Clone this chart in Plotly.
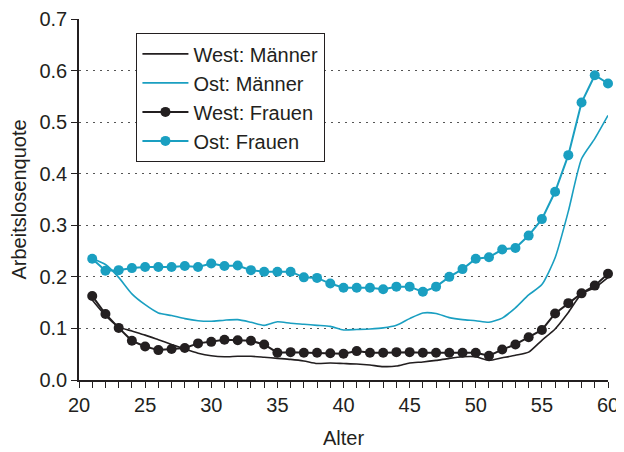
import plotly.graph_objects as go

alter = list(range(21, 61))

west_maenner = [0.155, 0.125, 0.103, 0.095, 0.087, 0.078, 0.069, 0.060, 0.052, 0.047,
                0.045, 0.046, 0.046, 0.044, 0.042, 0.040, 0.037, 0.032, 0.033, 0.032,
                0.031, 0.029, 0.026, 0.027, 0.033, 0.035, 0.038, 0.042, 0.045, 0.045,
                0.038, 0.043, 0.048, 0.054, 0.077, 0.099, 0.131, 0.167, 0.179, 0.199]

ost_maenner = [0.235, 0.224, 0.199, 0.167, 0.146, 0.130, 0.125, 0.119, 0.115, 0.114,
               0.116, 0.117, 0.112, 0.106, 0.113, 0.110, 0.108, 0.106, 0.104, 0.097,
               0.098, 0.099, 0.101, 0.106, 0.119, 0.130, 0.129, 0.121, 0.117, 0.115,
               0.112, 0.120, 0.140, 0.165, 0.185, 0.237, 0.327, 0.429, 0.468, 0.513]

west_frauen = [0.163, 0.128, 0.101, 0.076, 0.065, 0.058, 0.060, 0.062, 0.071, 0.074,
               0.078, 0.077, 0.076, 0.069, 0.053, 0.054, 0.053, 0.053, 0.052, 0.051,
               0.056, 0.053, 0.053, 0.054, 0.054, 0.053, 0.053, 0.053, 0.053, 0.053,
               0.047, 0.059, 0.069, 0.083, 0.097, 0.129, 0.149, 0.168, 0.183, 0.206]

ost_frauen = [0.235, 0.212, 0.213, 0.217, 0.219, 0.219, 0.219, 0.221, 0.219, 0.226,
              0.221, 0.222, 0.213, 0.210, 0.210, 0.210, 0.199, 0.198, 0.187, 0.179,
              0.179, 0.179, 0.176, 0.181, 0.181, 0.171, 0.181, 0.200, 0.215, 0.235,
              0.238, 0.253, 0.256, 0.280, 0.312, 0.365, 0.436, 0.538, 0.591, 0.575]

y_ticks = [0.0, 0.1, 0.2, 0.3, 0.4, 0.5, 0.6, 0.7]
y_ticklabels = ["0.0", "0.1", "0.2", "0.3", "0.4", "0.5", "0.6", "0.7"]
x_ticks = [20, 25, 30, 35, 40, 45, 50, 55, 60]

BLACK = "#231f20"
TEAL = "#1a9fc1"
FONT = "Liberation Sans, Arial, sans-serif"

fig = go.Figure()
fig.add_trace(go.Scatter(x=alter, y=west_maenner, mode="lines", name="West: Männer",
                         line=dict(color=BLACK, width=1.6, shape="spline", smoothing=0.6),
                         cliponaxis=False, legendgroup="a"))
fig.add_trace(go.Scatter(x=alter, y=ost_maenner, mode="lines", name="Ost: Männer",
                         line=dict(color=TEAL, width=1.6, shape="spline", smoothing=0.6),
                         cliponaxis=False, legendgroup="b"))
fig.add_trace(go.Scatter(x=alter, y=west_frauen, mode="lines+markers", name="West: Frauen",
                         line=dict(color=BLACK, width=2),
                         marker=dict(color=BLACK, size=10),
                         cliponaxis=False, legendgroup="c"))
fig.add_trace(go.Scatter(x=alter, y=ost_frauen, mode="lines+markers", name="Ost: Frauen",
                         line=dict(color=TEAL, width=2),
                         marker=dict(color=TEAL, size=10),
                         cliponaxis=False, legendgroup="d"))

# page body has an 8px margin, so the figure is offset by 8px
fig.update_layout(
    width=616, height=444,
    margin=dict(l=71, r=16, t=11, b=72, autoexpand=False),
    paper_bgcolor="white", plot_bgcolor="white",
    font=dict(family=FONT, size=20, color=BLACK),
    showlegend=True,
    legend=dict(x=0.108, y=0.961, xanchor="left", yanchor="top",
                bordercolor=BLACK, borderwidth=1.3, bgcolor="white",
                font=dict(size=20, color=BLACK), tracegroupgap=0,
                itemwidth=46, traceorder="grouped"),
    xaxis=dict(range=[20, 60], tickmode="array", tickvals=x_ticks,
               ticks="outside", ticklen=6, tickwidth=1.2, tickcolor=BLACK,
               showline=True, linecolor=BLACK, linewidth=1.5,
               showgrid=False, zeroline=False, automargin=False,
               ticklabeloverflow="allow",
               minor=dict(dtick=1, tick0=20, ticks="outside", ticklen=6,
                          tickwidth=1.2, tickcolor=BLACK, showgrid=False),
               title=dict(text="Alter", font=dict(size=20), standoff=16),
               tickfont=dict(size=20)),
    yaxis=dict(range=[0, 0.7], tickmode="array", tickvals=y_ticks,
               ticktext=y_ticklabels, ticklabeloverflow="allow",
               ticks="outside", ticklen=6, tickwidth=1.2, tickcolor=BLACK,
               showline=True, linecolor=BLACK, linewidth=1.5,
               showgrid=True, gridcolor="#555555", gridwidth=1.2, griddash="2px,5px",
               zeroline=False, automargin=False,
               title=dict(text="Arbeitslosenquote", font=dict(size=20), standoff=8),
               tickfont=dict(size=20)),
)

fig.write_html("out.html")
